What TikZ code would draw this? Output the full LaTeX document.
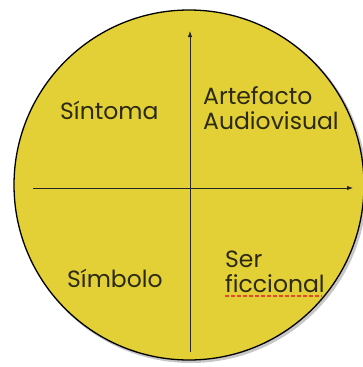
\documentclass[tikz,border=0pt]{standalone}
\usepackage{fontspec}
\setmainfont{Poppins}
\usepackage{tikz}
\usetikzlibrary{arrows.meta,positioning}
\definecolor{disco}{RGB}{227,208,54}
\definecolor{tinta}{RGB}{45,42,20}
\definecolor{subraya}{RGB}{232,70,45}

\begin{document}
\begin{tikzpicture}[x=1pt,y=-1pt,
  etiqueta/.style={text=tinta,font=\fontsize{23.5}{25}\selectfont,inner sep=0pt,anchor=base west,align=left},
  eje/.style={draw=black!85,line width=0.8pt,-{Latex[length=6pt,width=4.5pt]}}]
  \useasboundingbox (0,0) rectangle (363,367);
  \coordinate (O) at (189,185);
  % disco y su sombra
  \fill[black!22] (191,187) circle[radius=176];
  \fill[disco,draw=black,line width=1.3pt] (O) circle[radius=175];
  % ejes
  \coordinate (Vb) at (190,352);
  \coordinate (Vt) at (190,31);
  \coordinate (Hl) at (33,188);
  \coordinate (Hr) at (353,188);
  \draw[eje] (Vb)--(Vt);
  \draw[eje] (Hl)--(Hr);
  % cuadrantes (base = ultima linea)
  \node[etiqueta] (sintoma) at (60,119) {Síntoma};
  \node[etiqueta] (artefacto) at (203,129) {Artefacto\\Audiovisual};
  \node[etiqueta] (simbolo) at (67,287) {Símbolo};
  \node[etiqueta] (ser) at (225,292) {Ser\\ficcional};
  \coordinate (Sa) at (225,296);
  \coordinate (Sb) at (322,296);
  \draw[subraya,line width=2pt,dash pattern=on 4pt off 2pt] (Sa)--(Sb);
\end{tikzpicture}
\end{document}
